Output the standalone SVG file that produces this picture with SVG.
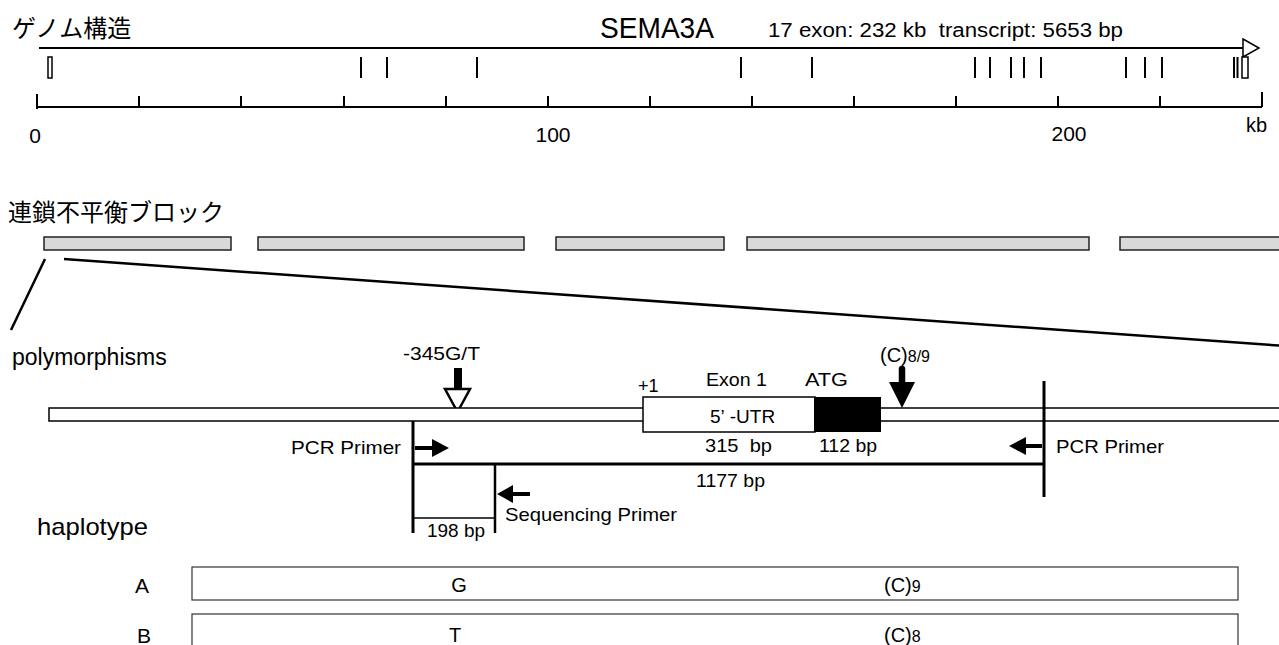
<svg xmlns="http://www.w3.org/2000/svg" width="1279" height="645" viewBox="0 0 1279 645">
<style>
.t{font-family:"Liberation Sans",Arial,sans-serif;fill:#000}
.j{font-family:"Noto Sans CJK JP","Noto Sans CJK SC",sans-serif;fill:#000}
.ln{stroke:#000;fill:none}
.tk{stroke:#000;stroke-width:2}
.ld{fill:#d9d9d9;stroke:#222;stroke-width:1.5}
.hb{fill:#fff;stroke:#333;stroke-width:1.2}
.blk{fill:#000}
</style>
<rect width="1279" height="645" fill="#fff"/>

<g id="genome-title">
<text class="j" x="12" y="37" font-size="24">ゲノム構造</text>
<text class="t" x="600" y="38" font-size="29" textLength="114" lengthAdjust="spacingAndGlyphs">SEMA3A</text>
<text class="t" x="768" y="37" font-size="20" textLength="355" lengthAdjust="spacingAndGlyphs" xml:space="preserve">17 exon: 232 kb  transcript: 5653 bp</text>
</g>

<g id="gene-axis">
<line class="ln" x1="39" y1="48" x2="1243" y2="48" stroke-width="2"/>
<polygon points="1243,39 1259,48 1243,57" fill="#fff" stroke="#000" stroke-width="1.5"/>
</g>

<g id="exons">
<rect x="48" y="57" width="4" height="21" fill="#fff" stroke="#000" stroke-width="1.5"/>
<g class="tk">
<line x1="361" y1="57" x2="361" y2="78"/>
<line x1="387" y1="57" x2="387" y2="78"/>
<line x1="477" y1="57" x2="477" y2="78"/>
<line x1="741" y1="57" x2="741" y2="78"/>
<line x1="812" y1="57" x2="812" y2="78"/>
<line x1="975" y1="57" x2="975" y2="78"/>
<line x1="990" y1="57" x2="990" y2="78"/>
<line x1="1011" y1="57" x2="1011" y2="78"/>
<line x1="1024" y1="57" x2="1024" y2="78"/>
<line x1="1041" y1="57" x2="1041" y2="78"/>
<line x1="1126" y1="57" x2="1126" y2="78"/>
<line x1="1145" y1="57" x2="1145" y2="78"/>
<line x1="1162" y1="57" x2="1162" y2="78"/>
<line x1="1234" y1="57" x2="1234" y2="78"/>
<line x1="1237.5" y1="57" x2="1237.5" y2="78"/>
</g>
<rect x="1242" y="57" width="6" height="21" fill="#fff" stroke="#000" stroke-width="1.5"/>
</g>

<g id="scale-bar">
<line class="ln" x1="37" y1="107" x2="1262" y2="107" stroke-width="2"/>
<g class="tk">
<line x1="37" y1="94" x2="37" y2="109"/>
<line x1="139" y1="96" x2="139" y2="107"/>
<line x1="241" y1="96" x2="241" y2="107"/>
<line x1="344" y1="96" x2="344" y2="107"/>
<line x1="446" y1="96" x2="446" y2="107"/>
<line x1="548" y1="96" x2="548" y2="107"/>
<line x1="650" y1="96" x2="650" y2="107"/>
<line x1="752" y1="96" x2="752" y2="107"/>
<line x1="854" y1="96" x2="854" y2="107"/>
<line x1="956" y1="96" x2="956" y2="107"/>
<line x1="1058" y1="96" x2="1058" y2="107"/>
<line x1="1160" y1="96" x2="1160" y2="107"/>
<line x1="1262" y1="92" x2="1262" y2="107"/>
</g>
<text class="t" x="35" y="143" font-size="21" text-anchor="middle">0</text>
<text class="t" x="553" y="142" font-size="21" text-anchor="middle">100</text>
<text class="t" x="1069" y="141" font-size="21" text-anchor="middle">200</text>
<text class="t" x="1246" y="132" font-size="20">kb</text>
</g>

<g id="ld-blocks">
<text class="j" x="8" y="221" font-size="24">連鎖不平衡ブロック</text>
<rect class="ld" x="44" y="237" width="187" height="13"/>
<rect class="ld" x="258" y="237" width="266" height="13"/>
<rect class="ld" x="556" y="237" width="168" height="13"/>
<rect class="ld" x="747" y="237" width="342" height="13"/>
<rect class="ld" x="1120" y="237" width="170" height="13"/>
</g>

<g id="connectors">
<line class="ln" x1="45" y1="259" x2="11" y2="330" stroke-width="2.5"/>
<line class="ln" x1="64" y1="259" x2="1285" y2="346" stroke-width="2.5"/>
</g>

<g id="polymorphisms">
<text class="t" x="12" y="365" font-size="23">polymorphisms</text>
<text class="t" x="403" y="360" font-size="19" textLength="77" lengthAdjust="spacingAndGlyphs">-345G/T</text>
<rect class="blk" x="454" y="368" width="8" height="22"/>
<polygon points="445,389 470,389 457.5,412" fill="#fff" stroke="#000" stroke-width="2.5"/>
<text class="t" x="880" y="362" font-size="20">(C)<tspan font-size="16">8/9</tspan></text>
<line class="ln" x1="902" y1="369" x2="902" y2="384" stroke-width="6.5" stroke-linecap="round"/>
<polygon class="blk" points="889,382 915,382 902,408"/>
</g>

<g id="gene-region">
<rect x="49" y="408" width="1240" height="13" fill="#fff" stroke="#000" stroke-width="1.5"/>
<rect x="643" y="397" width="172" height="35" fill="#fff" stroke="#000" stroke-width="1.5"/>
<rect class="blk" x="814" y="397" width="67" height="35"/>
<text class="t" x="638" y="392" font-size="18">+1</text>
<text class="t" x="706" y="386" font-size="18" textLength="61" lengthAdjust="spacingAndGlyphs">Exon 1</text>
<text class="t" x="805" y="386" font-size="18" textLength="43" lengthAdjust="spacingAndGlyphs">ATG</text>
<text class="t" x="710" y="423" font-size="19">5’<tspan dx="5">-UTR</tspan></text>
<text class="t" x="705" y="452" font-size="19" textLength="67" lengthAdjust="spacingAndGlyphs" xml:space="preserve">315  bp</text>
<text class="t" x="819" y="452" font-size="19" textLength="58" lengthAdjust="spacingAndGlyphs">112 bp</text>
</g>

<g id="primers">
<line class="ln" x1="413" y1="421" x2="413" y2="533" stroke-width="3"/>
<line class="ln" x1="1044" y1="381" x2="1044" y2="497" stroke-width="3"/>
<line class="ln" x1="413" y1="464" x2="1044" y2="464" stroke-width="3"/>
<line class="ln" x1="495" y1="464" x2="495" y2="533" stroke-width="2.5"/>
<line class="ln" x1="413" y1="518" x2="495" y2="518" stroke-width="1.5"/>
<line class="ln" x1="415" y1="448" x2="434" y2="448" stroke-width="4"/>
<polygon class="blk" points="432,439 449,448 432,457"/>
<line class="ln" x1="1042" y1="446" x2="1024" y2="446" stroke-width="4"/>
<polygon class="blk" points="1026,437 1009,446 1026,455"/>
<line class="ln" x1="530" y1="494" x2="510" y2="494" stroke-width="4"/>
<polygon class="blk" points="513,485 497,494 513,503"/>
<text class="t" x="291" y="454" font-size="19" textLength="110" lengthAdjust="spacingAndGlyphs">PCR Primer</text>
<text class="t" x="1056" y="453" font-size="19" textLength="108" lengthAdjust="spacingAndGlyphs">PCR Primer</text>
<text class="t" x="696" y="487" font-size="19" textLength="69" lengthAdjust="spacingAndGlyphs">1177 bp</text>
<text class="t" x="505" y="521" font-size="19" textLength="172" lengthAdjust="spacingAndGlyphs">Sequencing Primer</text>
<text class="t" x="427" y="537" font-size="19" textLength="58" lengthAdjust="spacingAndGlyphs">198 bp</text>
</g>

<g id="haplotypes">
<text class="t" x="37" y="535" font-size="24" textLength="111" lengthAdjust="spacingAndGlyphs">haplotype</text>
<text class="t" x="135" y="593" font-size="21">A</text>
<rect class="hb" x="192" y="567" width="1046" height="33"/>
<text class="t" x="459" y="592" font-size="20" text-anchor="middle">G</text>
<text class="t" x="884" y="592" font-size="20">(C)<tspan font-size="16">9</tspan></text>
<text class="t" x="137" y="643" font-size="21">B</text>
<rect class="hb" x="192" y="614" width="1046" height="40"/>
<text class="t" x="455" y="642" font-size="20" text-anchor="middle">T</text>
<text class="t" x="884" y="642" font-size="20">(C)<tspan font-size="16">8</tspan></text>
</g>
</svg>
